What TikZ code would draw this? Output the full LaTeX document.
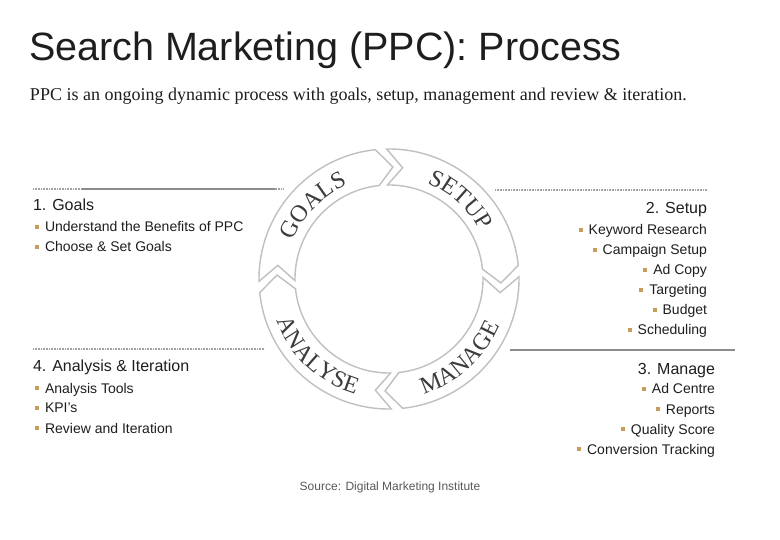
\documentclass[tikz,border=0pt]{standalone}
\usepackage{fontspec}
\setmainfont{Liberation Sans}
\newfontfamily\serifface{Liberation Serif}
\usetikzlibrary{decorations.text}

\definecolor{ringgray}{HTML}{C0C0C0}
\definecolor{ringtext}{HTML}{3C3C3C}
\definecolor{bulletc}{HTML}{C89B5E}
\definecolor{linegray}{HTML}{8C8C8C}
\definecolor{inkgray}{HTML}{1E1E1E}
\newcommand\bul{\textcolor{bulletc}{\rule[0.22em]{4pt}{4pt}}\hspace{6pt}}
\newcommand\ringfont{\serifface\fontsize{24}{24}\selectfont\color{ringtext}}

\begin{document}
\begin{tikzpicture}  % ------ PPC process -----------
      [x=1pt,y=-1pt,
       every node/.style={inner sep=0pt, outer sep=0pt, text=inkgray},
       head/.style={font=\fontsize{16}{19}\selectfont},
       item/.style={font=\fontsize{14}{17}\selectfont},
       ringseg/.style={draw=ringgray, line width=1.4pt, fill=white},
       dotline/.style={draw=linegray!80, line width=2.4pt, dash pattern=on 0.8pt off 0.8pt},
       fullline/.style={draw=linegray, line width=2.6pt}]
    \fill[white] (0,0) rectangle (780,540);
    \useasboundingbox (0,0) rectangle (780,540);

    \node[anchor=base west, font=\fontsize{39.5}{40}\selectfont] (title) at (29,61) {Search Marketing (PPC): Process};
    \node[anchor=base west, font=\serifface\fontsize{18}{20}\selectfont] (intro) at (30,101)
        {PPC is an ongoing dynamic process with goals, setup, management and review \& iteration.};

    % separators
    \draw[dotline] (33,189) -- (283,189);
    \draw[fullline] (82,189) -- (275,189);
    \draw[dotline] (495,190) -- (707,190);
    \draw[dotline] (33,349) -- (265,349);
    \draw[fullline] (510,350) -- (735,350);

    % ring of arrows
    \coordinate (cen) at (389,279);
    \begin{scope}[shift={(cen)}]
    \foreach \t/\h in {181/96, 91/6, 1/-84, -89/-174}
      \draw[ringseg] (\t:130pt) arc[start angle=\t, end angle=\h, radius=130pt]
          -- ({\h-8}:112pt) -- (\h:94pt)
          arc[start angle=\h, end angle=\t, radius=94pt]
          -- ({\t-8}:112pt) -- cycle;
    \path[decorate, decoration={text along path, text={|\ringfont|GOALS}, text align=center}]
        (174:103pt) arc[start angle=174, end angle=98, radius=103pt];
    \path[decorate, decoration={text along path, text={|\ringfont|SETUP}, text align=center}]
        (86:103pt) arc[start angle=86, end angle=10, radius=103pt];
    \path[decorate, decoration={text along path, text={|\ringfont|MANAGE}, text align=center}]
        (-88:120pt) arc[start angle=-88, end angle=-8, radius=120pt];
    \path[decorate, decoration={text along path, text={|\ringfont|ANALYSE}, text align=center}]
        (-173:120pt) arc[start angle=-173, end angle=-93, radius=120pt];
    \end{scope}

    % 1. Goals
    \node[head, anchor=base west] (goals) at (33,211) {1. Goals};
    \foreach \txt [count=\i] in {Understand the Benefits of PPC, Choose \& Set Goals}
      \node[item, anchor=base west] (g\i) at (35,{212+20*\i}) {\bul\txt};

    % 2. Setup
    \node[head, anchor=base east] (setup) at (707,214) {2. Setup};
    \foreach \txt [count=\i] in {Keyword Research, Campaign Setup, Ad Copy, Targeting, Budget, Scheduling}
      \node[item, anchor=base east] (s\i) at (707,{215+20*\i}) {\bul\txt};

    % 3. Manage
    \node[head, anchor=base east] (manage) at (715,374) {3. Manage};
    \foreach \txt [count=\i] in {Ad Centre, Reports, Quality Score, Conversion Tracking}
      \node[item, anchor=base east] (m\i) at (715,{374+20*\i}) {\bul\txt};

    % 4. Analysis & Iteration
    \node[head, anchor=base west] (analysis) at (33,372) {4. Analysis \& Iteration};
    \foreach \txt [count=\i] in {Analysis Tools, KPI's, Review and Iteration}
      \node[item, anchor=base west] (a\i) at (35,{373+20*\i}) {\bul\txt};

    \node[anchor=base, font=\fontsize{12}{14}\selectfont, text=gray!70!black] (src) at (390,490)
        {Source: Digital Marketing Institute};
\end{tikzpicture}
\end{document}
